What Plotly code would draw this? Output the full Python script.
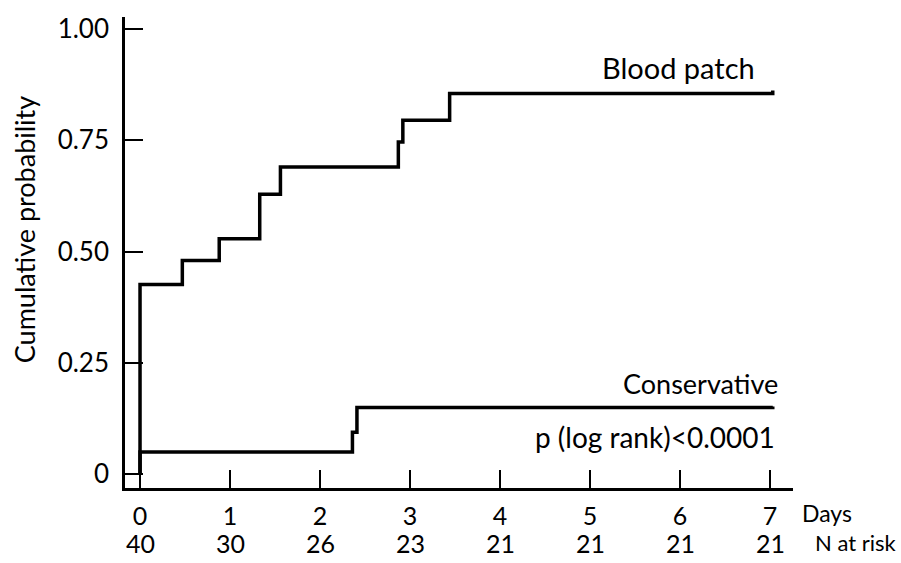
import plotly.graph_objects as go

# Data
blood_x = [0, 0, 0.47, 0.88, 1.33, 1.56, 2.87, 2.92, 3.44, 7.03]
blood_y = [0, 0.426, 0.48, 0.529, 0.629, 0.69, 0.746, 0.795, 0.855, 0.862]
cons_x = [0, 0, 2.36, 2.41, 7.03]
cons_y = [0, 0.05, 0.094, 0.15, 0.152]

day_ticks = [0, 1, 2, 3, 4, 5, 6, 7]
day_labels = ["0", "1", "2", "3", "4", "5", "6", "7"]
n_at_risk = [40, 30, 26, 23, 21, 21, 21, 21]
y_ticks = [0, 0.25, 0.5, 0.75, 1.0]
y_labels = ["0", "0.25", "0.50", "0.75", "1.00"]

FONT = "Lato"
fig = go.Figure()
fig.add_trace(go.Scatter(x=blood_x, y=blood_y, mode="lines", line=dict(shape="hv", color="black", width=3.5),
                         name="Blood patch", showlegend=False))
fig.add_trace(go.Scatter(x=cons_x, y=cons_y, mode="lines", line=dict(shape="hv", color="black", width=3.5),
                         name="Conservative", showlegend=False))

fig.update_layout(
    width=901, height=563,
    margin=dict(l=125, r=108, t=14, b=75),
    paper_bgcolor="white", plot_bgcolor="white",
    font=dict(family=FONT, color="black", size=26),
    xaxis=dict(range=[-0.167, 7.255], showgrid=False, zeroline=False, showline=True, linecolor="black", linewidth=2.5,
               ticks="inside", ticklen=18, tickwidth=2, tickcolor="black",
               tickvals=day_ticks, ticktext=day_labels, ticklabelstandoff=4,
               tickfont=dict(size=25, family=FONT)),
    yaxis=dict(range=[-0.031, 1.027], showgrid=False, zeroline=False, showline=True, linecolor="black", linewidth=2.5,
               ticks="inside", ticklen=18, tickwidth=2, tickcolor="black",
               tickvals=y_ticks, ticktext=y_labels, ticklabelstandoff=8,
               tickfont=dict(size=26, family=FONT)),
)

ann = []
ann.append(dict(text="Blood patch", x=6.86, y=0.913, xref="x", yref="y", xanchor="right", yanchor="middle",
                showarrow=False, font=dict(size=29)))
ann.append(dict(text="Conservative", x=7.11, y=0.203, xref="x", yref="y", xanchor="right", yanchor="middle",
                showarrow=False, font=dict(size=27)))
ann.append(dict(text="p (log rank)<0.0001", x=7.08, y=0.083, xref="x", yref="y", xanchor="right", yanchor="middle",
                showarrow=False, font=dict(size=28)))
ann.append(dict(text="Days", x=(800 - 125) / 668, y=-0.053, xref="paper", yref="paper", xanchor="left",
                yanchor="middle", showarrow=False, font=dict(size=23)))
for d, n in zip(day_ticks, n_at_risk):
    ann.append(dict(text=str(n), x=d, y=-0.116, xref="x", yref="paper", xanchor="center", yanchor="middle",
                    showarrow=False, font=dict(size=25)))
ann.append(dict(text="N at risk", x=(813 - 125) / 668, y=-0.116, xref="paper", yref="paper", xanchor="left",
                yanchor="middle", showarrow=False, font=dict(size=22)))
ann.append(dict(text="Cumulative probability", x=-0.15, y=0.549, xref="paper", yref="paper", textangle=-90,
                xanchor="center", yanchor="middle", showarrow=False, font=dict(size=27)))
fig.update_layout(annotations=ann)

fig.write_html("out.html")
